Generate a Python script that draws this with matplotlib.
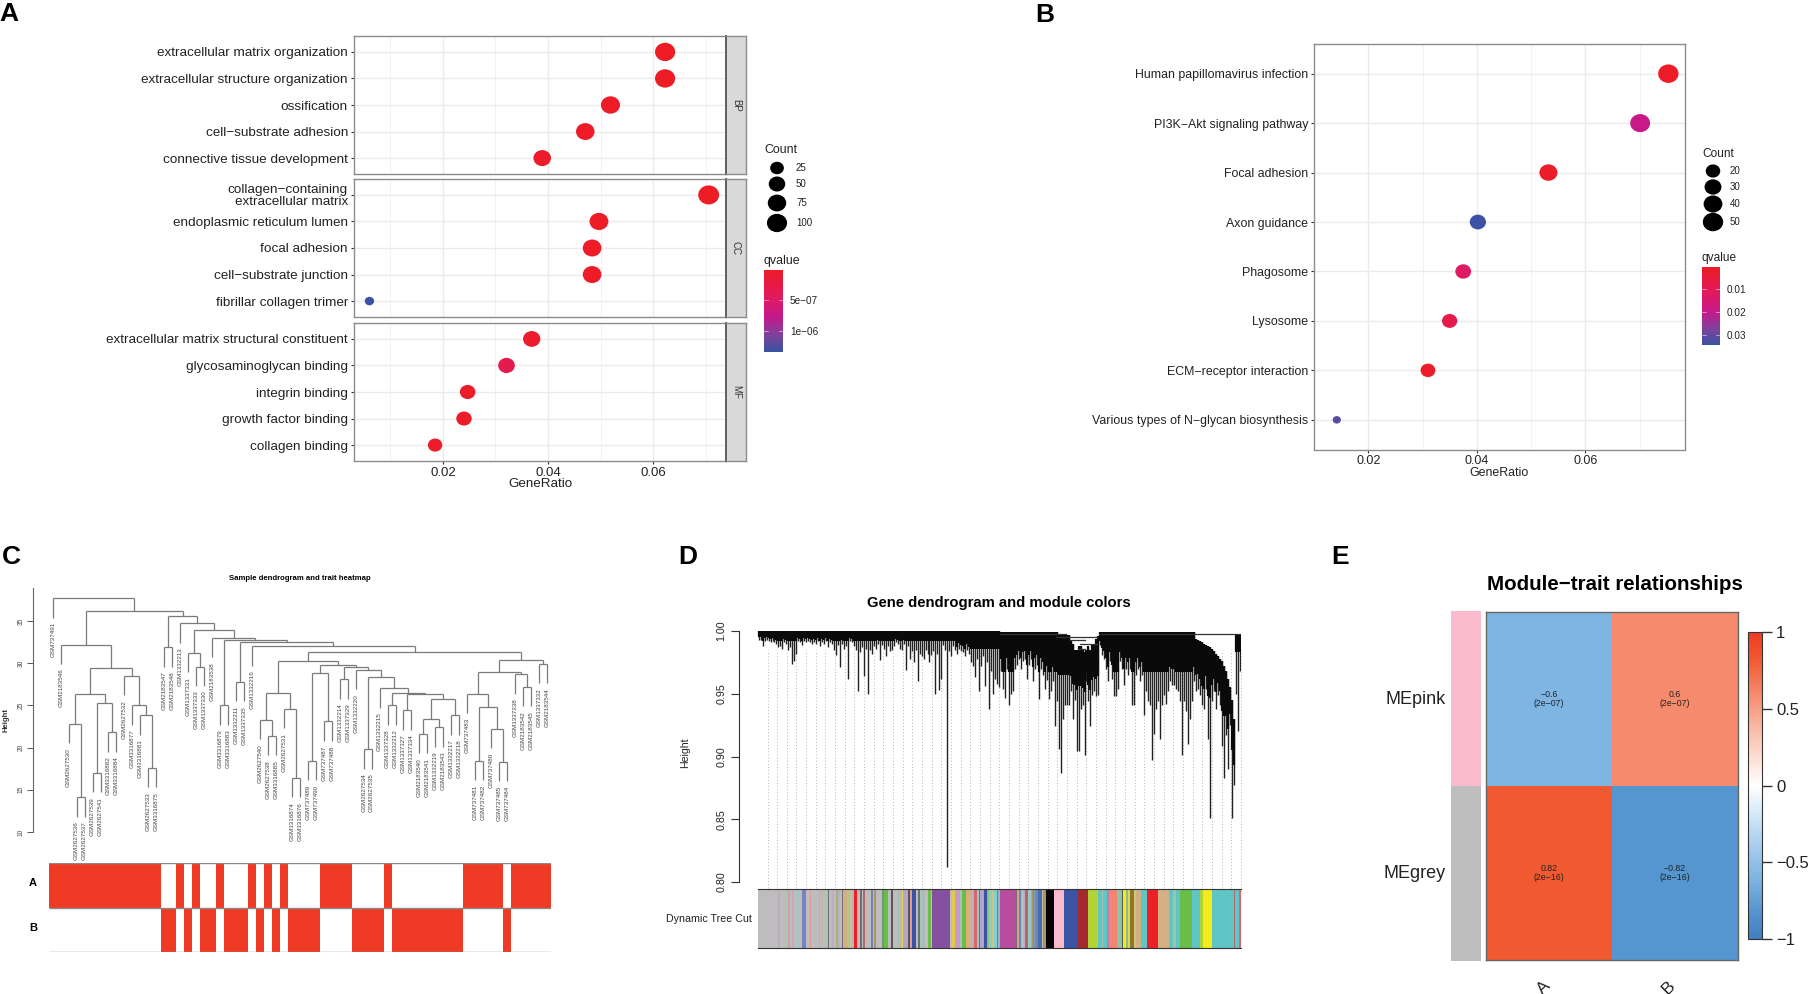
import numpy as np
import matplotlib
matplotlib.use('Agg')
import matplotlib.pyplot as plt
from matplotlib.colors import LinearSegmentedColormap, to_rgb
from matplotlib.markers import MarkerStyle
from matplotlib.transforms import Affine2D

plt.rcParams['font.family'] = ['Liberation Sans', 'DejaVu Sans']

W, H = 1809, 994

# panel A
a_terms = [
    ['extracellular matrix organization', 'extracellular structure organization', 'ossification',
     'cell\u2212substrate adhesion', 'connective tissue development'],
    ['collagen\u2212containing\nextracellular matrix', 'endoplasmic reticulum lumen', 'focal adhesion',
     'cell\u2212substrate junction', 'fibrillar collagen trimer'],
    ['extracellular matrix structural constituent', 'glycosaminoglycan binding', 'integrin binding',
     'growth factor binding', 'collagen binding'],
]
a_ratio = [[0.0623, 0.0623, 0.0519, 0.0471, 0.0389],
           [0.0706, 0.0497, 0.0484, 0.0484, 0.0060],
           [0.0369, 0.0321, 0.0247, 0.0240, 0.0185]]
a_count = [[101, 101, 84, 76, 63],
           [114, 81, 78, 78, 10],
           [60, 52, 40, 39, 30]]
a_q = [[1e-9, 1e-9, 2e-8, 3e-8, 5e-8],
       [1e-10, 2e-8, 3e-8, 3e-8, 1.33e-6],
       [6e-8, 3.2e-7, 6e-8, 5e-8, 5e-8]]
a_facets = ['BP', 'CC', 'MF']
a_legend = [25, 50, 75, 100]

# panel B
b_terms = ['Human papillomavirus infection', 'PI3K\u2212Akt signaling pathway', 'Focal adhesion', 'Axon guidance',
           'Phagosome', 'Lysosome', 'ECM\u2212receptor interaction', 'Various types of N\u2212glycan biosynthesis']
b_ratio = [0.0753, 0.0701, 0.0532, 0.0402, 0.0375, 0.0350, 0.0310, 0.0142]
b_count = [50, 47, 36, 27, 25, 23, 21, 9]
b_q = [0.0006, 0.019, 0.001, 0.034, 0.0125, 0.008, 0.0012, 0.031]
b_legend = [20, 30, 40, 50]

# panel C, nested as (height, left, right)
c10 = (23.4, (21.6, 'GSM2183540', 'GSM2183541'), (22.4, 'GSM1332219', 'GSM2183543'))
c9 = (25.8, c10, (23.8, 'GSM1332217', 'GSM1332218'))
c8 = (26.4, (24.4, 'GSM1337327', 'GSM1337334'), c9)
c7 = (26.5, (25.0, 'GSM1337328', 'GSM1332212'), c8)
c6 = (27.0, 'GSM1332215', c7)
c5 = (28.4, (19.8, 'GSM2627534', 'GSM2627535'), c6)
c4 = (29.2, 'GSM1332220', c5)
c2 = (29.5, (28.1, 'GSM1332214', 'GSM1337329'), c4)
c1 = (28.8, (18.4, 'GSM737489', 'GSM737490'), (23.1, 'GSM737487', 'GSM737488'))
c0 = (29.8, c1, c2)
b10 = (26.5, (23.3, 'GSM2627540', (21.4, 'GSM2627538', 'GSM3316885')),
       (24.6, 'GSM2627531', (16.4, 'GSM3316874', 'GSM3316876')))
b13 = (30.3, b10, c0)
r5 = (22.2, 'GSM737480', (18.3, 'GSM737485', 'GSM737484'))
r4 = (24.8, (18.4, 'GSM737481', 'GSM737482'), r5)
r2 = (26.4, 'GSM737483', r4)
r3 = (28.7, 'GSM1337338', (27.2, 'GSM2183542', 'GSM2183545'))
r1 = (29.0, r2, r3)
r0 = (30.4, r1, (29.9, 'GSM1337332', 'GSM2183544'))
b9 = (31.3, b13, r0)
b8 = (32.0, 'GSM1332216', b9)
b7 = (32.5, (27.8, 'GSM1332211', 'GSM1337335'), b8)
b6 = (32.8, (25.0, 'GSM3316879', 'GSM3316883'), b7)
b5 = (33.0, 'GSM2183538', b6)
b4 = (31.2, 'GSM1337331', (29.6, 'GSM1337333', 'GSM1337330'))
b3 = (33.9, b4, b5)
b2 = (34.7, 'GSM1332213', b3)
b1 = (35.6, (31.9, 'GSM2183547', 'GSM2183548'), b2)
a1 = (32.2, 'GSM2183546',
      (29.4,
       (26.4,
        (22.8, 'GSM2627530', (14.1, 'GSM2627536', 'GSM2627537')),
        (25.3, (17.0, 'GSM2627539', 'GSM2627541'), (21.8, 'GSM3316882', 'GSM3316884'))),
       (28.5, 'GSM2627532', (25.0, 'GSM3316877', (23.8, 'GSM3316881', (17.6, 'GSM2627533', 'GSM3316875'))))))
sample_tree = (37.7, 'GSM737491', (36.2, a1, b1))
# samples per run, alternating trait A / trait B
trait_runs = [14, 2, 1, 1, 1, 2, 1, 3, 1, 1, 1, 1, 1, 4, 4, 4, 1, 9, 5, 1, 5]

# panel D, leaf heights in thousandths
gene_tip = [
    993, 993, 988, 992, 993, 992, 991, 992, 991, 990, 987, 988, 986, 991, 990, 985, 987, 974, 976, 982,
    992, 991, 989, 992, 991, 992, 991, 990, 991, 990, 992, 988, 991, 990, 992, 987, 991, 990, 985, 981,
    989, 971, 990, 986, 988, 962, 992, 991, 988, 985, 952, 983, 987, 964, 986, 950, 985, 982, 988, 986,
    990, 977, 989, 986, 980, 988, 984, 985, 988, 991, 990, 986, 985, 990, 969, 988, 978, 984, 975, 985,
    960, 982, 980, 978, 985, 982, 975, 981, 984, 950, 982, 953, 962, 989, 985, 812, 984, 980, 988, 985,
    982, 986, 984, 983, 980, 985, 982, 975, 972, 963, 978, 952, 972, 980, 956, 975, 938, 968, 950, 962,
    958, 955,
    968, 954, 947, 970, 941, 950, 952, 970, 973, 978, 970, 976, 978, 962, 973, 978, 960, 970, 973, 946,
    970, 965, 954, 961, 946, 952, 960, 924, 944, 906, 887, 930, 941, 941, 941, 952, 930, 945, 904, 904,
    938, 941, 901, 960, 944, 924, 949, 952, 948, 949, 989, 981, 978, 970, 960, 976, 962, 948, 948, 954,
    976, 970, 957, 970, 965, 970, 941, 941, 965, 970, 960, 965, 933, 952, 944, 941, 897, 918, 938, 944,
    914, 941, 949, 942, 952, 960, 957, 957, 954, 952, 944, 901, 944, 936, 910, 930, 944, 960, 952, 954,
    949, 941, 938, 954, 914, 851, 944, 952, 938, 949, 941, 908, 883, 917, 890, 925, 851, 877, 950, 920,
    968,
]
gene_top = ([999.7] * 122 + [999] * 29 + [997] * 6
            + [992, 990, 985, 985, 988, 988, 985, 983, 985, 988, 985, 990, 990, 994, 996]
            + [999] * 48
            + [994, 993, 992, 991, 990, 989, 988, 987, 986, 984, 982, 980, 978, 976, 972, 968, 962, 955, 945, 930]
            + [997] * 3)
# longest solid black run below the top of the tree, per leaf
gene_solid = [8] * 100 + [14] * 22 + [32] * 50 + [32] * 48 + [40] * 20 + [14] * 3
# leaf index from, leaf index to, height
gene_arcs = [(122, 155, 998), (150, 171, 995.5), (157, 165, 993), (162, 171, 990), (161, 165, 986), (172, 243, 998)]
module_colors = [
    'grey', 'lilac', 'grey', 'mint', 'grey', 'salmon', 'grey', 'plum', 'grey', 'aqua', 'grey', 'slate', 'grey',
    'salmon', 'grey', 'lilac', 'grey', 'tan', 'grey', 'mint', 'dark', 'grey', 'plum', 'grey', 'green', 'plum',
    'grey', 'dark', 'tan', 'lime', 'grey', 'tan', 'orange', 'red', 'grey', 'dark', 'grey', 'maroon', 'grey',
    'navy', 'grey', 'olive', 'grey', 'forest', 'green', 'grey', 'black', 'grey', 'mint', 'tan', 'yellow', 'lilac',
    'black', 'salmon', 'navy', 'grey', 'dark', 'mint', 'salmon', 'grey', 'green', 'grey', 'purple', 'grey', 'gold',
    'salmon', 'plum', 'mint', 'green', 'orange', 'tan', 'lilac', 'red', 'aqua', 'dark', 'lilac', 'navy', 'green',
    'mint', 'gold', 'aqua', 'maroon', 'sky',
    'magenta', 'dark', 'salmon', 'navy', 'mint', 'plum', 'maroon', 'aqua', 'green', 'olive', 'blue', 'navy', 'blue',
    'tan', 'olive', 'black', 'pink', 'navy', 'brown', 'lime', 'teal', 'sage', 'teal', 'magenta', 'salmon', 'sage',
    'black', 'yellow', 'green', 'yellow', 'olive', 'gold', 'tan', 'teal', 'red', 'tan', 'teal', 'sage', 'teal',
    'green', 'teal', 'lime', 'yellow', 'teal', 'maroon', 'teal', 'red',
]
module_widths = [
    62, 5, 17, 5, 3, 4, 8, 6, 10, 5, 8, 12, 12,
    4, 22, 5, 4, 4, 6, 8, 4, 10, 4, 7, 7, 4,
    8, 3, 12, 8, 5, 4, 4, 9, 8, 5, 5, 4, 19,
    5, 5, 4, 19, 6, 11, 10, 7, 10, 7, 8, 5, 13,
    7, 5, 12, 8, 5, 8, 4, 11, 9, 5, 53, 5, 10,
    4, 11, 5, 12, 8, 10, 8, 7, 7, 3, 11, 10, 6,
    10, 4, 9, 3, 7,
    48, 4, 6, 6, 8, 4, 8, 8, 4, 4, 8, 6, 11,
    5, 7, 25, 30, 42, 31, 30, 10, 5, 12, 5, 25, 13,
    3, 10, 6, 6, 12, 6, 14, 20, 32, 34, 12, 8, 12,
    36, 24, 10, 25, 67, 4, 12, 4,
]
palette = {'grey': '#BEBCBD', 'lilac': '#B6A3C8', 'mint': '#8FCDBE', 'salmon': '#F58472', 'plum': '#C79BC6',
           'aqua': '#7FD0D0', 'slate': '#7783C0', 'tan': '#D2B083', 'dark': '#3A3033', 'green': '#6ABD45',
           'lime': '#B2D235', 'orange': '#F2A33A', 'red': '#EE1F26', 'maroon': '#A3242C', 'navy': '#3A53A4',
           'olive': '#8C7A2A', 'forest': '#2F7D3B', 'black': '#050505', 'yellow': '#F4EB1C', 'purple': '#8451A0',
           'gold': '#E3C84A', 'sky': '#6BB6C8', 'magenta': '#B94E9E', 'blue': '#4070B0', 'pink': '#FBB9CC',
           'brown': '#A52A2E', 'teal': '#5FC5C5', 'sage': '#8FC5A5'}

# panel E
me_names = ['MEpink', 'MEgrey']
me_colors = ['#F9BBCB', '#BEBEBE']
trait_names = ['A', 'B']
cor_values = np.array([[-0.6, 0.6], [0.82, -0.82]])
cor_text = [['\u22120.6\n(2e\u221207)', '0.6\n(2e\u221207)'], ['0.82\n(2e\u221216)', '\u22120.82\n(2e\u221216)']]
cor_ticks = [-1, -0.5, 0, 0.5, 1]
cor_ticklabels = ['\u22121', '\u22120.5', '0', '0.5', '1']

q_cmap = LinearSegmentedColormap.from_list('q', [(0, '#EE1C25'), (0.35, '#E01A62'), (0.58, '#C4198C'),
                                                 (0.78, '#84409A'), (1, '#3A53A4')])
cor_cmap = LinearSegmentedColormap.from_list('cor', [(0, '#3F7FC0'), (0.09, '#5596D0'), (0.2, '#7FB5E3'),
                                                     (0.35, '#BBD9F2'), (0.5, '#FFFFFF'), (0.65, '#FBC9B8'),
                                                     (0.8, '#F58A6C'), (0.91, '#F15A30'), (1, '#EE3A23')])
oval = MarkerStyle('o', transform=Affine2D().scale(1.1, 1))

fig = plt.figure(figsize=(W / 100, H / 100), dpi=100)


def box(l, t, r, b):
    return fig.add_axes([l / W, 1 - b / H, (r - l) / W, (b - t) / H])


def dot_area(count, cmin, cmax, dmin, dmax):
    d = dmin + (dmax - dmin) * np.sqrt((np.array(count, float) - cmin) / (cmax - cmin))
    return (d * 0.72) ** 2


def dot_panel(ax, terms, ratio, count, q, qmax, lims, cr, dr, label_size):
    ax.scatter(ratio, range(len(terms)), s=dot_area(count, cr[0], cr[1], dr[0], dr[1]), c=q, cmap=q_cmap,
               vmin=0, vmax=qmax, marker=oval, linewidths=0, zorder=3)
    ax.set_xlim(lims)
    ax.set_ylim(len(terms) - 0.4, -0.6)
    ax.set_yticks(range(len(terms)))
    ax.set_yticklabels(terms, fontsize=label_size, color='#222222', linespacing=0.95)
    ax.set_xticks([0.02, 0.04, 0.06])
    ax.set_xticks([0.01, 0.03, 0.05, 0.07], minor=True)
    ax.grid(True, which='major', color='#EBEBEB', lw=1)
    ax.grid(True, which='minor', color='#F0F0F0', lw=0.6)
    ax.set_axisbelow(True)
    ax.tick_params(which='minor', length=0)
    ax.tick_params(length=2.5, width=0.8, color='#333333', pad=1.5)
    for s in ax.spines.values():
        s.set_color('#8C8C8C')
        s.set_linewidth(1.0)


# overlay in pixel units for legends and letters
ov = fig.add_axes([0, 0, 1, 1], zorder=5)
ov.set_xlim(0, W)
ov.set_ylim(H, 0)
ov.axis('off')

# A
a_tops = [(36, 174), (179, 317), (323, 461)]
for i, (t, b) in enumerate(a_tops):
    ax = box(353.5, t, 726, b)
    dot_panel(ax, a_terms[i], a_ratio[i], a_count[i], a_q[i], 1.34e-6, (0.00296, 0.0739), (10, 114), (8.5, 19), 9.7)
    if i < 2:
        ax.tick_params(axis='x', bottom=False, labelbottom=False)
    else:
        ax.tick_params(axis='x', labelsize=9.5, labelcolor='#222222')
    st = box(726, t, 745.5, b)
    st.set_facecolor('#D9D9D9')
    st.set_xticks([])
    st.set_yticks([])
    for s in st.spines.values():
        s.set_color('#8C8C8C')
        s.set_linewidth(1.0)
    st.spines['left'].set_color('#555555')
    st.spines['left'].set_linewidth(1.3)
    st.text(0.5, 0.5, a_facets[i], rotation=-90, fontsize=7, color='#333333', ha='center', va='center',
            transform=st.transAxes)
ov.text(540, 484, 'GeneRatio', fontsize=9.6, ha='center', va='center', color='#222222')
ov.text(764, 150, 'Count', fontsize=8.9, va='center', color='#222222')
ov.scatter([777] * 4, [168, 184, 203, 223], s=dot_area(a_legend, 10, 114, 8.5, 19), c='black', marker=oval,
           linewidths=0)
for y, c in zip([168, 184, 203, 223], a_legend):
    ov.text(796, y, str(c), fontsize=7, va='center', color='#222222')
ov.text(764, 261, 'qvalue', fontsize=8.9, va='center', color='#222222')

cb = box(764, 269.5, 783, 352)
cb.imshow(np.linspace(0, 1, 200).reshape(-1, 1), cmap=q_cmap, aspect='auto', extent=(0, 1, 1.34e-6, 0))
cb.set_xticks([])
cb.set_yticks([5e-7, 1e-6], ['5e\u221207', '1e\u221206'], fontsize=7.2, color='#222222')
cb.yaxis.tick_right()
cb.tick_params(length=0, pad=5)
for v in [5e-7, 1e-6]:
    cb.plot([0, 0.2], [v, v], color='white', lw=0.5, alpha=0.7)
    cb.plot([0.8, 1], [v, v], color='white', lw=0.5, alpha=0.7)
cb.set_xlim(0, 1)
for s in cb.spines.values():
    s.set_visible(False)

# B
ax = box(1314, 44, 1685, 449.5)
dot_panel(ax, b_terms, b_ratio, b_count, b_q, 0.0343, (0.01124, 0.07837), (9, 50), (7.5, 18.5), 8.9)
ax.tick_params(axis='x', labelsize=9, labelcolor='#222222')
ov.text(1499, 473, 'GeneRatio', fontsize=8.9, ha='center', va='center', color='#222222')
ov.text(1702, 154, 'Count', fontsize=8.6, va='center', color='#222222')
ov.scatter([1713] * 4, [171, 187, 204, 222], s=dot_area(b_legend, 9, 50, 7.5, 18.5), c='black', marker=oval,
           linewidths=0)
for y, c in zip([171, 187, 204, 222], b_legend):
    ov.text(1730, y, str(c), fontsize=7, va='center', color='#222222')
ov.text(1702, 258, 'qvalue', fontsize=8.6, va='center', color='#222222')

cb = box(1702, 267, 1720, 345)
cb.imshow(np.linspace(0, 1, 200).reshape(-1, 1), cmap=q_cmap, aspect='auto', extent=(0, 1, 0.0343, 0.0004))
cb.set_xticks([])
cb.set_yticks([0.01, 0.02, 0.03], ['0.01', '0.02', '0.03'], fontsize=7.2, color='#222222')
cb.yaxis.tick_right()
cb.tick_params(length=0, pad=5)
for v in [0.01, 0.02, 0.03]:
    cb.plot([0, 0.2], [v, v], color='white', lw=0.5, alpha=0.7)
    cb.plot([0.8, 1], [v, v], color='white', lw=0.5, alpha=0.7)
cb.set_xlim(0, 1)
for s in cb.spines.values():
    s.set_visible(False)

# C
ax = box(33.3, 588, 551, 832)
ax.patch.set_alpha(0)
ax.set_xlim(-2.43, 62.5)
ax.set_ylim(10, 38.9)
hang = 2.3
next_leaf = [0]


def draw_node(node, parent_h):
    if isinstance(node, str):
        x = next_leaf[0]
        next_leaf[0] += 1
        ax.plot([x, x], [parent_h, parent_h - hang], color='#7A7A7A', lw=0.9, solid_capstyle='butt')
        ax.text(x, parent_h - hang - 0.55, node, rotation=90, ha='center', va='top', fontsize=4.5, color='#444444')
        return x
    h, left, right = node
    xl = draw_node(left, h)
    xr = draw_node(right, h)
    ax.plot([xl, xr], [h, h], color='#7A7A7A', lw=0.9, solid_capstyle='butt')
    x = (xl + xr) / 2
    if parent_h is not None:
        ax.plot([x, x], [parent_h, h], color='#7A7A7A', lw=0.9, solid_capstyle='butt')
    return x


draw_node(sample_tree, None)
ax.set_xticks([])
ax.set_yticks([10, 15, 20, 25, 30, 35])
ax.set_yticklabels(['10', '15', '20', '25', '30', '35'], rotation=90, va='center', fontsize=4.8, color='#444444')
ax.tick_params(length=4, width=0.7, color='#555555', pad=2)
for s in ['top', 'right', 'bottom']:
    ax.spines[s].set_visible(False)
ax.spines['left'].set_color('#666666')
ov.text(300, 579, 'Sample dendrogram and trait heatmap', fontsize=5.6, fontweight='bold', ha='center', va='center')
ov.text(6, 720, 'Height', fontsize=5.6, fontweight='bold', rotation=90, ha='center', va='center', color='#333333')

hm = box(49, 863, 551, 952)
row_a = np.repeat([(i + 1) % 2 for i in range(len(trait_runs))], trait_runs)
hm.pcolormesh(np.array([row_a, 1 - row_a]), cmap=LinearSegmentedColormap.from_list('t', ['white', '#EF3A25']),
              vmin=0, vmax=1)
hm.set_ylim(2, 0)
hm.hlines([0, 1, 2], 0, len(row_a), color='#8A8A8A', lw=1)
hm.set_xticks([])
hm.set_yticks([])
for s in hm.spines.values():
    s.set_visible(False)
ov.text(33, 883, 'A', fontsize=8, fontweight='bold', ha='center', va='center')
ov.text(33, 928, 'B', fontsize=8, fontweight='bold', ha='center', va='center')

# D
n_genes = len(gene_tip)
pitch = (1240.5 - 757.6) / n_genes
ax = box(739, 631, 1240.5, 882)
ax.patch.set_alpha(0)
ax.set_xlim(-(757.6 - 739) / pitch, n_genes)
ax.set_ylim(800, 1000)
gene_x = np.arange(n_genes) + 0.5
tip = np.array(gene_tip, float)
top = np.array(gene_top, float)
core = top - np.minimum(0.7 * (top - tip), np.array(gene_solid, float))
guides = np.arange(757.6 + 9.9, 1241, 9.66)
ax.vlines((guides - 757.6) / pitch, 793, 985, color='#9A9A9A', lw=0.6, linestyles=(0, (1, 2.8)), zorder=1,
          clip_on=False)
ax.vlines(gene_x, tip, top, color='#222222', lw=1.0, zorder=3)
ax.vlines(gene_x, core, top, color='#0A0A0A', lw=1.6, zorder=3)
for x0, x1, y in gene_arcs:
    ax.plot([x0, x1], [y, y], color='#333333', lw=0.9, zorder=4)
ax.set_xticks([])
ax.set_yticks([800, 850, 900, 950, 1000])
ax.set_yticklabels(['0.80', '0.85', '0.90', '0.95', '1.00'], rotation=90, va='center', fontsize=7.7, color='#222222')
ax.tick_params(length=6, width=0.8, color='#333333', pad=3)
for s in ['top', 'right', 'bottom']:
    ax.spines[s].set_visible(False)
ax.spines['left'].set_color('#333333')
ov.text(999, 603, 'Gene dendrogram and module colors', fontsize=10.7, fontweight='bold', ha='center', va='center')
ov.text(685, 753, 'Height', fontsize=7.6, rotation=90, ha='center', va='center', color='#222222')
ov.text(752, 919, 'Dynamic Tree Cut', fontsize=7.7, ha='right', va='center', color='#222222')

bar = box(757.6, 889, 1240.5, 948)
lefts = np.concatenate([[0], np.cumsum(module_widths)[:-1]])
# thin strips blur into the grey in the picture
grey_rgb = np.array(to_rgb(palette['grey']))
bar_colors = []
for c, w in zip(module_colors, module_widths):
    rgb = np.array(to_rgb(palette[c]))
    bar_colors.append(tuple(0.55 * rgb + 0.45 * grey_rgb) if w <= 8 else tuple(rgb))
bar.bar(lefts, 1, width=module_widths, align='edge', color=bar_colors, linewidth=0)
bar.set_xlim(0, sum(module_widths))
bar.set_ylim(0, 1)
bar.set_xticks([])
bar.set_yticks([])
for s in ['left', 'right']:
    bar.spines[s].set_visible(False)
for s in ['top', 'bottom']:
    bar.spines[s].set_color('#333333')

# E
ax = box(1486, 612, 1738, 960)
mesh = ax.pcolormesh(cor_values, cmap=cor_cmap, vmin=-1, vmax=1)
ax.set_ylim(2, 0)
ax.set_xticks([])
ax.set_yticks([])
for s in ax.spines.values():
    s.set_color('#666666')
    s.set_linewidth(1)
for i in range(2):
    for j in range(2):
        ax.text(j + 0.5, i + 0.5, cor_text[i][j], ha='center', va='center', fontsize=6.3, color='#222222',
                linespacing=1.05)

st = box(1451, 611, 1481, 961)
st.bar([0.5, 0.5], [1, 1], bottom=[0, 1], width=1, color=me_colors)
st.set_xlim(0, 1)
st.set_ylim(2, 0)
st.axis('off')
for i, name in enumerate(me_names):
    ov.text(1446, [699, 873][i], name, fontsize=13, ha='right', va='center', color='#222222')
for i, name in enumerate(trait_names):
    ov.text([1544, 1669][i], 988, name, fontsize=12.5, rotation=45, ha='center', va='center', color='#222222')
ov.text(1615, 585, 'Module\u2212trait relationships', fontsize=14.8, fontweight='bold', ha='center', va='center')

cax = box(1748, 632, 1762, 939)
cbar = fig.colorbar(mesh, cax=cax, ticks=cor_ticks)
cbar.ax.set_yticklabels(cor_ticklabels, fontsize=12, color='#222222')
cbar.ax.tick_params(length=7, width=1, color='#333333', pad=3)
cbar.outline.set_edgecolor('#333333')

# letters
for label, x, y in [('A', 9, 14), ('B', 1045, 15), ('C', 11, 557), ('D', 688, 557), ('E', 1340, 557)]:
    ov.text(x, y, label, fontsize=19, fontweight='bold', ha='center', va='center')

fig.savefig('out.png', dpi=100)
